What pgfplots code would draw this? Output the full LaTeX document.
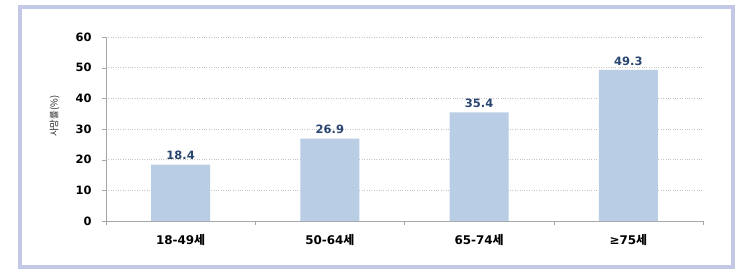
\documentclass[border=0pt]{standalone}
\usepackage{pgfplots}
\pgfplotsset{compat=1.18}
\usepackage{fontspec}
\setmainfont{DejaVu Sans}
\newfontfamily\kr{Noto Sans CJK KR}
\definecolor{barblue}{HTML}{B9CDE5}
\definecolor{valblue}{HTML}{2A4670}
\definecolor{framec}{HTML}{C3C8E6}
\definecolor{gridc}{HTML}{C4C4C4}
\definecolor{axisc}{HTML}{A6A6A6}
\begin{document}
\begin{tikzpicture}
\path[use as bounding box] (0bp,0bp) rectangle (735bp,269bp);
\fill[white] (0bp,0bp) rectangle (735bp,269bp);
\draw[line width=3.5bp, color=framec] (20bp,2bp) rectangle (733bp,262bp);
\begin{axis}[
  at={(106bp,48bp)}, anchor=south west,
  scale only axis, width=597bp, height=184bp,
  xmin=-0.5, xmax=3.5, ymin=0, ymax=60,
  ytick={0,10,...,60},
  xtick={0,1,2,3},
  xticklabels={{18-49{\kr 세}},{50-64{\kr 세}},{65-74{\kr 세}},{≥75{\kr 세}}},
  minor xtick={-0.5,0.5,1.5,2.5,3.5},
  major x tick style={draw=none},
  minor x tick style={axisc},
  minor tick length=4bp,
  major tick length=4bp,
  y tick style={axisc},
  tick align=outside,
  axis x line*=bottom, axis y line*=left,
  axis line style={axisc, -},
  ymajorgrids, grid style={gridc, dotted, line width=0.7bp},
  /pgf/number format/assume math mode=true,
  ticklabel style={font=\bfseries\fontsize{11.5}{13}\selectfont, text=black},
  yticklabel style={xshift=-7bp},
  xticklabel style={yshift=-6bp, font=\bfseries\fontsize{12}{14}\selectfont},
  ylabel={{\kr 사망률(\%)}},
  ylabel style={font=\fontsize{9.5}{11}\selectfont, text=black!85},
  every axis y label/.append style={at={(axis description cs:-0.072,0.57)}, anchor=south},
  ybar, bar width=59bp, bar shift=0pt,
  nodes near coords,
  nodes near coords style={font=\bfseries\fontsize{11.5}{13}\selectfont, text=valblue, anchor=south, yshift=1bp},
  point meta=explicit symbolic,
  clip=false,
]
\addplot[fill=barblue, draw=none] table[meta=label] {
x y label
0 18.4 18.4
1 26.9 26.9
2 35.4 35.4
3 49.3 49.3
};
\end{axis}
\end{tikzpicture}
\end{document}
